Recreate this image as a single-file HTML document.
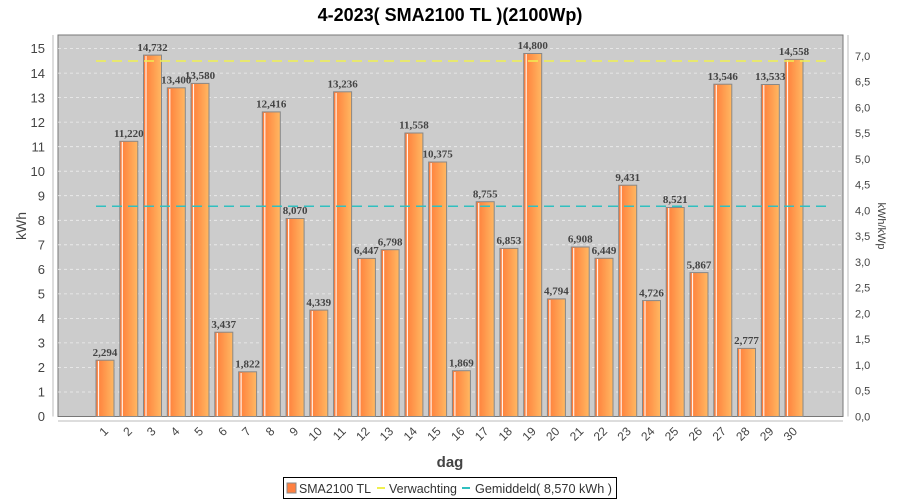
<!DOCTYPE html>
<html><head><meta charset="utf-8"><style>
body{margin:0;background:#fff;}
svg{display:block;font-family:"Liberation Sans",sans-serif;}
.v{font-family:"Liberation Serif",serif;font-weight:bold;font-size:11px;fill:#444;text-anchor:middle}
.t{font-size:13px;fill:#444}
.x{font-size:12px;fill:#444;text-anchor:end}
</style></head><body>
<svg width="900" height="500" viewBox="0 0 900 500">
<defs>
<linearGradient id="g" x1="0" x2="1" y1="0" y2="0">
<stop offset="0" stop-color="#ff7a38"/><stop offset="1" stop-color="#ffb862"/>
</linearGradient>
</defs>
<text x="450" y="21" text-anchor="middle" font-size="18" font-weight="bold" fill="#000">4-2023( SMA2100 TL )(2100Wp)</text>
<rect x="58" y="35" width="785" height="381.5" fill="#cccccc" stroke="#777" stroke-width="1"/>
<g stroke="#eee" stroke-dasharray="3,3" stroke-width="0.8">
<line x1="58" x2="843" y1="392" y2="392"/><line x1="58" x2="843" y1="367.4" y2="367.4"/><line x1="58" x2="843" y1="342.9" y2="342.9"/><line x1="58" x2="843" y1="318.4" y2="318.4"/><line x1="58" x2="843" y1="293.9" y2="293.9"/><line x1="58" x2="843" y1="269.3" y2="269.3"/><line x1="58" x2="843" y1="244.8" y2="244.8"/><line x1="58" x2="843" y1="220.3" y2="220.3"/><line x1="58" x2="843" y1="195.7" y2="195.7"/><line x1="58" x2="843" y1="171.2" y2="171.2"/><line x1="58" x2="843" y1="146.7" y2="146.7"/><line x1="58" x2="843" y1="122.1" y2="122.1"/><line x1="58" x2="843" y1="97.6" y2="97.6"/><line x1="58" x2="843" y1="73.1" y2="73.1"/><line x1="58" x2="843" y1="48.6" y2="48.6"/>
</g>
<g fill="url(#g)" stroke="#888" stroke-width="1">
<rect x="96" y="360.2" width="18" height="56.3"/><rect x="119.8" y="141.3" width="18" height="275.2"/><rect x="143.5" y="55.1" width="18" height="361.4"/><rect x="167.3" y="87.8" width="18" height="328.7"/><rect x="191" y="83.4" width="18" height="333.1"/><rect x="214.8" y="332.2" width="18" height="84.3"/><rect x="238.6" y="371.8" width="18" height="44.7"/><rect x="262.3" y="111.9" width="18" height="304.6"/><rect x="286.1" y="218.5" width="18" height="198"/><rect x="309.8" y="310.1" width="18" height="106.4"/><rect x="333.6" y="91.8" width="18" height="324.7"/><rect x="357.4" y="258.4" width="18" height="158.1"/><rect x="381.1" y="249.7" width="18" height="166.8"/><rect x="404.9" y="133" width="18" height="283.5"/><rect x="428.6" y="162" width="18" height="254.5"/><rect x="452.4" y="370.7" width="18" height="45.8"/><rect x="476.2" y="201.7" width="18" height="214.8"/><rect x="499.9" y="248.4" width="18" height="168.1"/><rect x="523.7" y="53.5" width="18" height="363"/><rect x="547.4" y="298.9" width="18" height="117.6"/><rect x="571.2" y="247" width="18" height="169.5"/><rect x="595" y="258.3" width="18" height="158.2"/><rect x="618.7" y="185.2" width="18" height="231.3"/><rect x="642.5" y="300.6" width="18" height="115.9"/><rect x="666.2" y="207.5" width="18" height="209"/><rect x="690" y="272.6" width="18" height="143.9"/><rect x="713.8" y="84.2" width="18" height="332.3"/><rect x="737.5" y="348.4" width="18" height="68.1"/><rect x="761.3" y="84.5" width="18" height="332"/><rect x="785" y="59.4" width="18" height="357.1"/>
</g>
<g stroke="#fff" stroke-width="1.2" opacity="0.9">
<line x1="98.5" x2="98.5" y1="361" y2="416"/><line x1="122.3" x2="122.3" y1="142" y2="416"/><line x1="146" x2="146" y1="56" y2="416"/><line x1="169.8" x2="169.8" y1="89" y2="416"/><line x1="193.5" x2="193.5" y1="84" y2="416"/><line x1="217.3" x2="217.3" y1="333" y2="416"/><line x1="241.1" x2="241.1" y1="373" y2="416"/><line x1="264.8" x2="264.8" y1="113" y2="416"/><line x1="288.6" x2="288.6" y1="219" y2="416"/><line x1="312.3" x2="312.3" y1="311" y2="416"/><line x1="336.1" x2="336.1" y1="93" y2="416"/><line x1="359.9" x2="359.9" y1="259" y2="416"/><line x1="383.6" x2="383.6" y1="251" y2="416"/><line x1="407.4" x2="407.4" y1="134" y2="416"/><line x1="431.1" x2="431.1" y1="163" y2="416"/><line x1="454.9" x2="454.9" y1="372" y2="416"/><line x1="478.7" x2="478.7" y1="203" y2="416"/><line x1="502.4" x2="502.4" y1="249" y2="416"/><line x1="526.2" x2="526.2" y1="54" y2="416"/><line x1="549.9" x2="549.9" y1="300" y2="416"/><line x1="573.7" x2="573.7" y1="248" y2="416"/><line x1="597.5" x2="597.5" y1="259" y2="416"/><line x1="621.2" x2="621.2" y1="186" y2="416"/><line x1="645" x2="645" y1="301" y2="416"/><line x1="668.7" x2="668.7" y1="208" y2="416"/><line x1="692.5" x2="692.5" y1="273" y2="416"/><line x1="716.3" x2="716.3" y1="85" y2="416"/><line x1="740" x2="740" y1="349" y2="416"/><line x1="763.8" x2="763.8" y1="85" y2="416"/><line x1="787.5" x2="787.5" y1="60" y2="416"/>
</g>
<line x1="96" x2="830" y1="61" y2="61" stroke="#f0f050" stroke-width="1.5" stroke-dasharray="10,6"/>
<line x1="96" x2="830" y1="206.3" y2="206.3" stroke="#30c0c0" stroke-width="1.5" stroke-dasharray="10,6"/>
<g class="v">
<text x="105" y="356">2,294</text><text x="128.8" y="137">11,220</text><text x="152.5" y="51">14,732</text><text x="176.3" y="83.5">13,400</text><text x="200" y="79">13,580</text><text x="223.8" y="328">3,437</text><text x="247.6" y="367.5">1,822</text><text x="271.3" y="107.5">12,416</text><text x="295.1" y="214">8,070</text><text x="318.8" y="306">4,339</text><text x="342.6" y="87.5">13,236</text><text x="366.4" y="254">6,447</text><text x="390.1" y="245.5">6,798</text><text x="413.9" y="128.5">11,558</text><text x="437.6" y="157.5">10,375</text><text x="461.4" y="366.5">1,869</text><text x="485.2" y="197.5">8,755</text><text x="508.9" y="244">6,853</text><text x="532.7" y="49">14,800</text><text x="556.4" y="294.5">4,794</text><text x="580.2" y="242.5">6,908</text><text x="604" y="254">6,449</text><text x="627.7" y="181">9,431</text><text x="651.5" y="296.5">4,726</text><text x="675.2" y="203">8,521</text><text x="699" y="268.5">5,867</text><text x="722.8" y="80">13,546</text><text x="746.5" y="344">2,777</text><text x="770.3" y="80">13,533</text><text x="794" y="55">14,558</text>
</g>
<line x1="53" x2="53" y1="35" y2="416.5" stroke="#bbb"/>
<line x1="58" x2="843" y1="421" y2="421" stroke="#bbb"/>
<line x1="848" x2="848" y1="35" y2="416.5" stroke="#bbb"/>
<g class="t" text-anchor="end">
<text x="45" y="421">0</text><text x="45" y="396.5">1</text><text x="45" y="372">2</text><text x="45" y="347.5">3</text><text x="45" y="323">4</text><text x="45" y="298.5">5</text><text x="45" y="274">6</text><text x="45" y="249.5">7</text><text x="45" y="225">8</text><text x="45" y="200.5">9</text><text x="45" y="176">10</text><text x="45" y="151.5">11</text><text x="45" y="127">12</text><text x="45" y="102.5">13</text><text x="45" y="78">14</text><text x="45" y="53">15</text>
</g>
<g class="t" style="font-size:11px">
<text x="855" y="420.5">0,0</text><text x="855" y="394.7">0,5</text><text x="855" y="369">1,0</text><text x="855" y="343.2">1,5</text><text x="855" y="317.5">2,0</text><text x="855" y="291.7">2,5</text><text x="855" y="266">3,0</text><text x="855" y="240.2">3,5</text><text x="855" y="214.4">4,0</text><text x="855" y="188.7">4,5</text><text x="855" y="162.9">5,0</text><text x="855" y="137.2">5,5</text><text x="855" y="111.4">6,0</text><text x="855" y="85.6">6,5</text><text x="855" y="59.9">7,0</text>
</g>
<g class="x">
<text transform="translate(109,432) rotate(-45)">1</text><text transform="translate(132.8,432) rotate(-45)">2</text><text transform="translate(156.5,432) rotate(-45)">3</text><text transform="translate(180.3,432) rotate(-45)">4</text><text transform="translate(204,432) rotate(-45)">5</text><text transform="translate(227.8,432) rotate(-45)">6</text><text transform="translate(251.6,432) rotate(-45)">7</text><text transform="translate(275.3,432) rotate(-45)">8</text><text transform="translate(299.1,432) rotate(-45)">9</text><text transform="translate(322.8,432) rotate(-45)">10</text><text transform="translate(346.6,432) rotate(-45)">11</text><text transform="translate(370.4,432) rotate(-45)">12</text><text transform="translate(394.1,432) rotate(-45)">13</text><text transform="translate(417.9,432) rotate(-45)">14</text><text transform="translate(441.6,432) rotate(-45)">15</text><text transform="translate(465.4,432) rotate(-45)">16</text><text transform="translate(489.2,432) rotate(-45)">17</text><text transform="translate(512.9,432) rotate(-45)">18</text><text transform="translate(536.7,432) rotate(-45)">19</text><text transform="translate(560.4,432) rotate(-45)">20</text><text transform="translate(584.2,432) rotate(-45)">21</text><text transform="translate(608,432) rotate(-45)">22</text><text transform="translate(631.7,432) rotate(-45)">23</text><text transform="translate(655.5,432) rotate(-45)">24</text><text transform="translate(679.2,432) rotate(-45)">25</text><text transform="translate(703,432) rotate(-45)">26</text><text transform="translate(726.8,432) rotate(-45)">27</text><text transform="translate(750.5,432) rotate(-45)">28</text><text transform="translate(774.3,432) rotate(-45)">29</text><text transform="translate(798,432) rotate(-45)">30</text>
</g>
<text x="450" y="467" text-anchor="middle" font-size="15" font-weight="bold" fill="#444">dag</text>
<text transform="translate(26,226) rotate(-90)" text-anchor="middle" font-size="14" fill="#444">kWh</text>
<text transform="translate(878,226) rotate(90)" text-anchor="middle" font-size="11" fill="#444">kWh/kWp</text>
<rect x="283.5" y="477.5" width="333" height="21" fill="#fff" stroke="#000"/>
<rect x="287" y="483" width="9" height="10" fill="#ff8040" stroke="#888"/>
<text x="299" y="493" font-size="12.5" fill="#333" textLength="72" lengthAdjust="spacingAndGlyphs">SMA2100 TL</text>
<line x1="377" x2="385" y1="488" y2="488" stroke="#f0f050" stroke-width="2"/>
<text x="389" y="493" font-size="12.5" fill="#333" textLength="68" lengthAdjust="spacingAndGlyphs">Verwachting</text>
<line x1="462" x2="470" y1="488" y2="488" stroke="#30c0c0" stroke-width="2"/>
<text x="475" y="493" font-size="12.5" fill="#333" textLength="137" lengthAdjust="spacingAndGlyphs">Gemiddeld( 8,570 kWh )</text>
</svg>
</body></html>
